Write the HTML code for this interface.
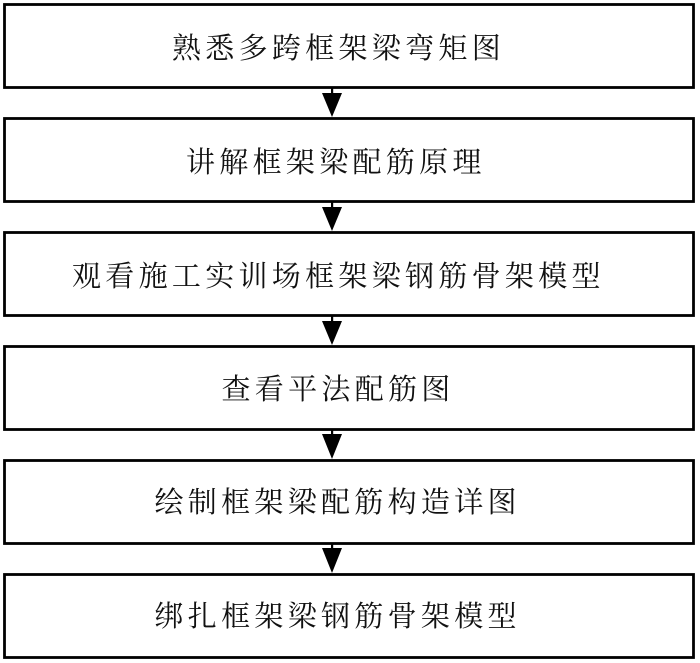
<!DOCTYPE html>
<html>
<head>
<meta charset="utf-8">
<style>
  html, body { margin: 0; padding: 0; background: #fff; }
  svg { display: block; }
  text { font-family: "Noto Serif CJK SC", "Noto Serif CJK JP", "Noto Serif CJK TC", "Source Han Serif SC", "Liberation Serif", serif; font-size: 29px; fill: #111; }
</style>
</head>
<body>
<svg width="700" height="663" viewBox="0 0 700 663" xmlns="http://www.w3.org/2000/svg">
  <g fill="none" stroke="#000" stroke-width="2.8">
    <rect x="4.5" y="4.5" width="689" height="83"/>
    <rect x="4.5" y="118.5" width="689" height="83"/>
    <rect x="4.5" y="232.5" width="689" height="83"/>
    <rect x="4.5" y="346.5" width="689" height="83"/>
    <rect x="4.5" y="460.5" width="689" height="83"/>
    <rect x="4.5" y="574.5" width="689" height="83"/>
  </g>
  <g fill="#000">
    <rect x="331" y="88" width="2.2" height="6"/>
    <polygon points="322,93 342,93 332,117"/>
    <rect x="331" y="202" width="2.2" height="6"/>
    <polygon points="322,207 342,207 332,231"/>
    <rect x="331" y="316" width="2.2" height="6"/>
    <polygon points="322,321 342,321 332,345"/>
    <rect x="331" y="430" width="2.2" height="6"/>
    <polygon points="322,434 342,434 332,459"/>
    <rect x="331" y="544" width="2.2" height="6"/>
    <polygon points="322,548 342,548 332,573"/>
  </g>
  <text x="172 205.3 238.6 271.9 305.2 338.5 371.8 405.1 438.4 471.7" y="58">熟悉多跨框架梁弯矩图</text>
  <text x="186 219.3 252.6 285.9 319.2 352.5 385.8 419.1 452.4" y="172">讲解框架梁配筋原理</text>
  <text x="72 105.3 138.6 171.9 205.2 238.5 271.8 305.1 338.4 371.7 405 438.3 471.6 504.9 538.2 571.5" y="286">观看施工实训场框架梁钢筋骨架模型</text>
  <text x="221.5 254.8 288.1 321.4 354.7 388 421.3" y="399">查看平法配筋图</text>
  <text x="154.5 187.8 221.1 254.4 287.7 321 354.3 387.6 420.9 454.2 487.5" y="512">绘制框架梁配筋构造详图</text>
  <text x="154.5 187.8 221.1 254.4 287.7 321 354.3 387.6 420.9 454.2 487.5" y="626">绑扎框架梁钢筋骨架模型</text>
</svg>
</body>
</html>
